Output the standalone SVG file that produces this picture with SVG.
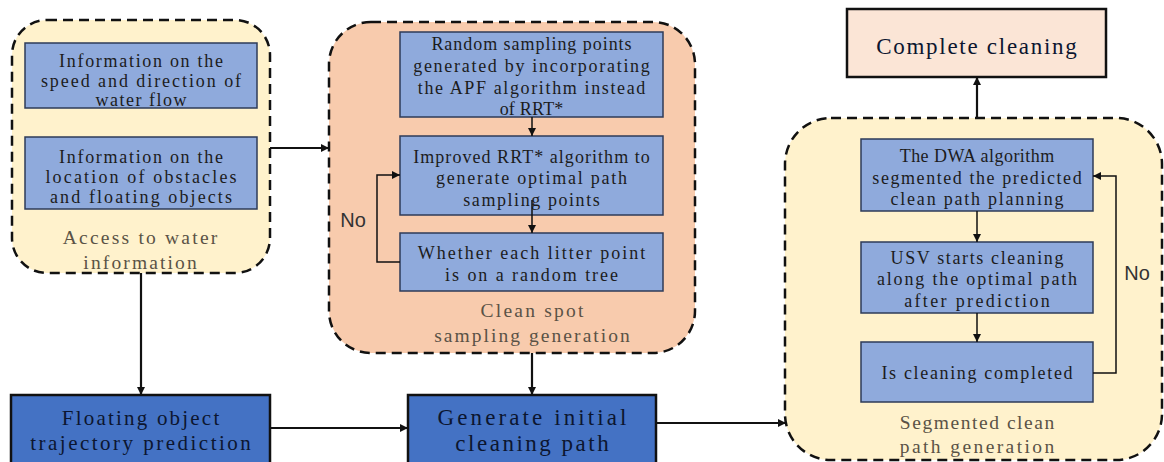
<svg xmlns="http://www.w3.org/2000/svg" width="1164" height="462" viewBox="0 0 1164 462">
  <defs>
    <marker id="arrow" viewBox="0 0 10 10" refX="10" refY="5" markerWidth="9" markerHeight="8" markerUnits="userSpaceOnUse" orient="auto">
      <path d="M0,0 L10,5 L0,10 z" fill="#111"/>
    </marker>
    <style>
      .group { stroke: #111; stroke-width: 2.5; stroke-dasharray: 10 6; }
      .yellow { fill: #FFF2CC; }
      .peach { fill: #F8CBAD; }
      .step { fill: #8FAADC; stroke: #2E3B58; stroke-width: 1.5; }
      .main { fill: #4472C4; stroke: #111; stroke-width: 2.5; }
      .final { fill: #FBE5D6; stroke: #111; stroke-width: 2.5; }
      text { font-family: "Liberation Serif", "Times New Roman", serif; text-anchor: middle; dominant-baseline: central; }
      .t { font-size: 18px; fill: #1c1c1c; }
      .tb { font-size: 21px; fill: #0c1630; }
      .tl { font-size: 23px; fill: #0c1630; }
      .lab { font-size: 19.5px; fill: #5a5246; }
      .no { font-family: "Liberation Sans", Arial, sans-serif; font-size: 20px; fill: #333; }
      .conn { fill: none; stroke: #111; stroke-width: 2.2; }
      .conn-thin { fill: none; stroke: #111; stroke-width: 1.5; }
    </style>
  </defs>

  <!-- group: water information -->
  <g id="water-info">
    <rect class="group yellow" x="12" y="20" width="258" height="253" rx="35"/>
    <g id="flow-info">
      <rect class="step" x="25" y="43" width="232" height="65"/>
      <text class="t" x="141" y="61" textLength="163.8" lengthAdjust="spacing">Information on the</text>
      <text class="t" x="141" y="80.5" textLength="200.2" lengthAdjust="spacing">speed and direction of</text>
      <text class="t" x="141" y="100" textLength="91" lengthAdjust="spacing">water flow</text>
    </g>
    <g id="obstacle-info">
      <rect class="step" x="25" y="137" width="232" height="72"/>
      <text class="t" x="141" y="157" textLength="163.8" lengthAdjust="spacing">Information on the</text>
      <text class="t" x="141" y="177" textLength="191.1" lengthAdjust="spacing">location of obstacles</text>
      <text class="t" x="141" y="197" textLength="182" lengthAdjust="spacing">and floating objects</text>
    </g>
    <text class="lab" x="140" y="237" textLength="154.5" lengthAdjust="spacing">Access to water</text>
    <text class="lab" x="140" y="262" textLength="113.3" lengthAdjust="spacing">information</text>
  </g>

  <!-- group: clean spot sampling generation -->
  <g id="sampling">
    <rect class="group peach" x="329" y="22" width="366" height="331" rx="42"/>
    <g id="apf-sampling">
      <rect class="step" x="400" y="32" width="263" height="85"/>
      <text class="t" x="531.5" y="44" textLength="200.2" lengthAdjust="spacing">Random sampling points</text>
      <text class="t" x="531.5" y="66" textLength="236.6" lengthAdjust="spacing">generated by incorporating</text>
      <text class="t" x="531.5" y="88" textLength="227.5" lengthAdjust="spacing">the APF algorithm instead</text>
      <text class="t" x="531.5" y="109" textLength="63.7" lengthAdjust="spacing">of RRT*</text>
    </g>
    <g id="improved-rrt">
      <rect class="step" x="400" y="136" width="263" height="79"/>
      <text class="t" x="531.5" y="157" textLength="236.6" lengthAdjust="spacing">Improved RRT* algorithm to</text>
      <text class="t" x="531.5" y="178" textLength="191.1" lengthAdjust="spacing">generate optimal path</text>
      <text class="t" x="531.5" y="200" textLength="136.5" lengthAdjust="spacing">sampling points</text>
    </g>
    <g id="litter-check">
      <rect class="step" x="400" y="233" width="263" height="58"/>
      <text class="t" x="531.5" y="253" textLength="227.5" lengthAdjust="spacing">Whether each litter point</text>
      <text class="t" x="531.5" y="275" textLength="172.9" lengthAdjust="spacing">is on a random tree</text>
    </g>
    <text class="lab" x="532" y="310" textLength="103" lengthAdjust="spacing">Clean spot</text>
    <text class="lab" x="532" y="335" textLength="195.7" lengthAdjust="spacing">sampling generation</text>
  </g>

  <!-- group: segmented clean path generation -->
  <g id="segmented">
    <rect class="group yellow" x="785" y="118" width="377" height="342" rx="46"/>
    <g id="dwa">
      <rect class="step" x="861" y="139" width="232" height="72"/>
      <text class="t" x="977" y="156" textLength="154.7" lengthAdjust="spacing">The DWA algorithm</text>
      <text class="t" x="977" y="178" textLength="209.3" lengthAdjust="spacing">segmented the predicted</text>
      <text class="t" x="977" y="199" textLength="172.9" lengthAdjust="spacing">clean path planning</text>
    </g>
    <g id="usv-cleaning">
      <rect class="step" x="861" y="242" width="232" height="71"/>
      <text class="t" x="977" y="258" textLength="172.9" lengthAdjust="spacing">USV starts cleaning</text>
      <text class="t" x="977" y="279" textLength="200.2" lengthAdjust="spacing">along the optimal path</text>
      <text class="t" x="977" y="301" textLength="145.6" lengthAdjust="spacing">after prediction</text>
    </g>
    <g id="done-check">
      <rect class="step" x="861" y="342" width="232" height="60"/>
      <text class="t" x="977" y="373" textLength="191.1" lengthAdjust="spacing">Is cleaning completed</text>
    </g>
    <text class="lab" x="977" y="422" textLength="154.5" lengthAdjust="spacing">Segmented clean</text>
    <text class="lab" x="977" y="446" textLength="154.5" lengthAdjust="spacing">path generation</text>
  </g>

  <g id="complete">
    <rect class="final" x="847" y="9" width="259" height="68"/>
    <text class="tl" x="976.5" y="46" textLength="200.6" lengthAdjust="spacing">Complete cleaning</text>
  </g>

  <g id="trajectory">
    <rect class="main" x="11" y="395" width="259" height="80"/>
    <text class="tb" x="140.5" y="418" textLength="157.5" lengthAdjust="spacing">Floating object</text>
    <text class="tb" x="140.5" y="443" textLength="220.5" lengthAdjust="spacing">trajectory prediction</text>
  </g>

  <g id="initial-path">
    <rect class="main" x="408" y="395" width="248" height="80"/>
    <text class="tl" x="532" y="417" textLength="188.8" lengthAdjust="spacing">Generate initial</text>
    <text class="tl" x="532" y="443" textLength="153.4" lengthAdjust="spacing">cleaning path</text>
  </g>

  <!-- connectors -->
  <g id="connectors">
    <path class="conn" d="M270,148 H329" marker-end="url(#arrow)"/>
    <path class="conn" d="M141,273 V395" marker-end="url(#arrow)"/>
    <path class="conn" d="M270,428 H408" marker-end="url(#arrow)"/>
    <path class="conn" d="M532,353 V395" marker-end="url(#arrow)"/>
    <path class="conn" d="M656,423 H786" marker-end="url(#arrow)"/>
    <path class="conn" d="M977,118 V77" marker-end="url(#arrow)"/>

    <path class="conn-thin" d="M532,117 V136" marker-end="url(#arrow)"/>
    <path class="conn-thin" d="M532,200 V233" marker-end="url(#arrow)"/>
    <path class="conn-thin" d="M400,262 H377 V175 H400" marker-end="url(#arrow)"/>
    <text class="no" x="353" y="220">No</text>

    <path class="conn-thin" d="M977,211 V242" marker-end="url(#arrow)"/>
    <path class="conn-thin" d="M977,313 V342" marker-end="url(#arrow)"/>
    <path class="conn-thin" d="M1093,373 H1116 V176 H1093" marker-end="url(#arrow)"/>
    <text class="no" x="1137" y="273">No</text>
  </g>
</svg>
